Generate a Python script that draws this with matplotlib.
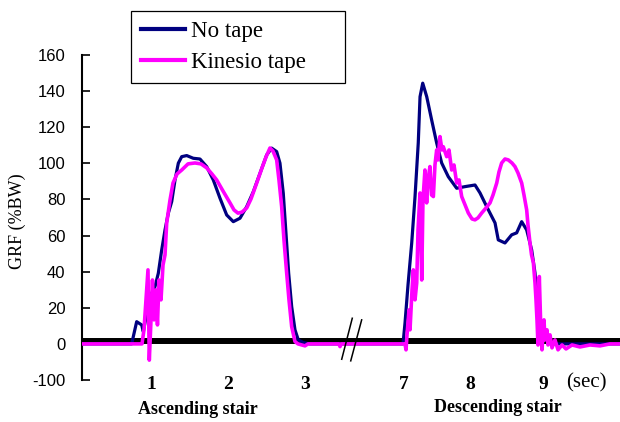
import matplotlib
matplotlib.use("Agg")
import matplotlib.pyplot as plt

# time axis is drawn with a break between 3 and 7 s, so x is in plot units
tick_pos = [1, 2, 3, 4.28, 5.14, 6.09]
tick_lab = ["1", "2", "3", "7", "8", "9"]
ytick_pos = [-20, 0, 20, 40, 60, 80, 100, 120, 140, 160]
ytick_lab = ["-100", "0", "20", "40", "60", "80", "100", "120", "140", "160"]

notape_x = [0.104, 0.749, 0.814, 0.879, 0.900, 0.987, 1.052, 1.095, 1.139, 1.182,
            1.225, 1.269, 1.312, 1.355, 1.399, 1.464, 1.549, 1.636, 1.723, 1.809,
            1.896, 1.983, 2.069, 2.156, 2.243, 2.329, 2.416, 2.503, 2.568, 2.632,
            2.675, 2.718, 2.753, 2.788, 2.827, 2.870, 2.913, 2.978, 3.065, 4.234,
            4.273, 4.299, 4.338, 4.386, 4.429, 4.471, 4.494, 4.529, 4.581, 4.645,
            4.710, 4.775, 4.861, 4.970, 5.078, 5.208, 5.273, 5.360, 5.468, 5.510,
            5.597, 5.684, 5.749, 5.814, 5.879, 5.944, 5.987, 6.026, 6.052, 6.078,
            6.140, 6.200, 7.091]
notape_y = [0, 0, 12.3, 10.5, 6.8, 26.2, 31.7, 39.1, 52.0, 63.1,
            72.4, 78.8, 90.8, 100.1, 103.7, 104.3, 102.8, 102.4, 98.2, 90.8,
            80.7, 71.4, 67.7, 69.6, 76.0, 84.3, 94.5, 104.7, 108.4, 106.5,
            100.1, 83.4, 61.3, 39.1, 20.7, 7.8, 2.2, 0.7, 0, 0,
            0, 11.6, 32.7, 55.9, 81.6, 111.3, 136.9, 144.4, 136.9, 124.0,
            111.3, 100.2, 92.6, 86.2, 87.1, 88.0, 83.6, 76.0, 67.0, 57.6,
            55.9, 60.4, 61.5, 67.7, 63.1, 52.0, 39.3, 18.8, 5.0, 1.1,
            4.0, 0, 0]

kinesio_x = [0.104, 0.883, 0.909, 0.935, 0.961, 0.978, 1.000, 1.019, 1.039, 1.065,
             1.084, 1.104, 1.130, 1.156, 1.182, 1.204, 1.247, 1.286, 1.338, 1.399,
             1.481, 1.571, 1.649, 1.723, 1.792, 1.853, 1.935, 2.026, 2.078, 2.130,
             2.182, 2.243, 2.299, 2.373, 2.442, 2.494, 2.545, 2.584, 2.632, 2.662,
             2.697, 2.727, 2.762, 2.792, 2.827, 2.870, 2.909, 3.000, 3.039, 3.440,
             3.455, 3.470, 4.299, 4.312, 4.325, 4.351, 4.364, 4.390, 4.407, 4.429,
             4.451, 4.468, 4.494, 4.516, 4.532, 4.558, 4.580, 4.597, 4.623, 4.643,
             4.667, 4.688, 4.710, 4.727, 4.753, 4.779, 4.796, 4.840, 4.870, 4.905,
             4.935, 4.970, 5.000, 5.035, 5.078, 5.121, 5.169, 5.208, 5.247, 5.295,
             5.351, 5.403, 5.442, 5.490, 5.519, 5.554, 5.597, 5.640, 5.688, 5.727,
             5.766, 5.814, 5.844, 5.879, 5.896, 5.922, 5.942, 5.966, 5.987, 6.000,
             6.013, 6.026, 6.043, 6.052, 6.065, 6.078, 6.104, 6.117, 6.143, 6.156,
             6.182, 6.208, 6.247, 6.286, 6.338, 6.390, 6.468, 6.571, 6.701, 6.831,
             6.961, 7.091]
kinesio_y = [0, 0, 7.8, 24.4, 41.0, -9.0, 13.3, 35.4, 13.3, 29.9,
             10.5, 35.4, 24.4, 43.7, 49.3, 67.0, 79.7, 89.1, 94.1, 96.3,
             99.7, 100.2, 99.7, 97.5, 94.1, 90.8, 84.7, 78.1, 74.2, 72.4,
             73.0, 75.3, 80.3, 89.1, 97.5, 103.5, 108.5, 106.8, 101.9, 90.8,
             76.0, 57.6, 39.3, 24.4, 9.6, 1.3, 0, -1.1, 0, 0,
             -1.5, 0, 0, -3.3, 5.0, 18.8, 7.8, 29.9, 41.0, 24.4,
             33.8, 63.1, 83.6, 35.4, 79.7, 96.3, 78.1, 90.8, 98.2, 82.5,
             81.6, 99.1, 107.4, 101.9, 114.8, 107.4, 109.2, 103.7, 107.4, 96.3,
             99.1, 89.1, 90.8, 81.6, 77.0, 72.5, 69.2, 68.7, 69.8, 72.5,
             75.3, 78.1, 82.5, 89.1, 95.2, 100.2, 102.4, 101.9, 100.2, 98.2,
             94.7, 89.1, 82.5, 74.2, 65.9, 55.9, 49.3, 44.9, 33.8, 24.4,
             13.3, -0.6, 37.3, 24.4, 5.0, -3.3, 13.3, 2.2, 7.8, -0.6,
             5.0, -2.2, 2.2, -3.3, -0.6, -2.8, -0.6, -1.7, -0.6, -1.1,
             0, 0]

baseline_x = [0.104, 7.091]
baseline_y = [1.5, 1.5]

serif = "Liberation Serif"
sans = "Liberation Sans"

fig = plt.figure(figsize=(6.2, 4.22), dpi=100)
ax = fig.add_axes([82 / 620, 1 - 380 / 422, 538 / 620, 325 / 422])

ax.plot(baseline_x, baseline_y, color="black", lw=4.3, solid_capstyle="butt", zorder=1)
l1, = ax.plot(notape_x, notape_y, color="#000080", lw=2.3, label="No tape", zorder=2)
l2, = ax.plot(kinesio_x, kinesio_y, color="#FF00FF", lw=2.6, label="Kinesio tape", zorder=3)

# axis break marks
ax.plot([3.477, 3.614], [-8.5, 14.2], color="black", lw=1.1, clip_on=False, zorder=4)
ax.plot([3.594, 3.736], [-9.4, 13.3], color="black", lw=1.1, clip_on=False, zorder=4)

ax.set_xlim(0.104, 7.091)
ax.set_ylim(-20, 160)
for s in ["top", "right", "bottom"]:
    ax.spines[s].set_visible(False)
ax.spines["left"].set_linewidth(1.5)

ax.set_yticks(ytick_pos, ytick_lab, fontfamily=sans, fontsize=12)
ax.tick_params(axis="y", direction="in", length=6, width=1.2, pad=12)
ax.set_xticks(tick_pos, tick_lab, fontfamily=serif, fontsize=14, fontweight="bold")
ax.tick_params(axis="x", length=0, pad=-3)

fig.text(17 / 620, 1 - 221 / 422, "GRF (%BW)", rotation=90, ha="center", va="center",
         fontfamily=serif, fontsize=13)
fig.text(586 / 620, 1 - 383 / 422, "(sec)", ha="center", va="center",
         fontfamily=serif, fontsize=15)
fig.text(198 / 620, 1 - 410 / 422, "Ascending stair", ha="center", va="center",
         fontfamily=serif, fontsize=13, fontweight="bold")
fig.text(498 / 620, 1 - 408 / 422, "Descending stair", ha="center", va="center",
         fontfamily=serif, fontsize=13, fontweight="bold")

leg = fig.legend(handles=[l1, l2], loc="upper left",
                 bbox_to_anchor=(131 / 620, 1 - 85 / 422, 214 / 620, 74 / 422),
                 mode="expand", borderaxespad=0, fancybox=False, framealpha=1,
                 edgecolor="black", prop={"family": serif, "size": 16.5},
                 handlelength=1.9, handletextpad=0.25, labelspacing=0.42, borderpad=0.45)
leg.get_frame().set_linewidth(0.9)
for h in leg.get_lines():
    h.set_linewidth(3)

fig.savefig("out.png", dpi=100)
